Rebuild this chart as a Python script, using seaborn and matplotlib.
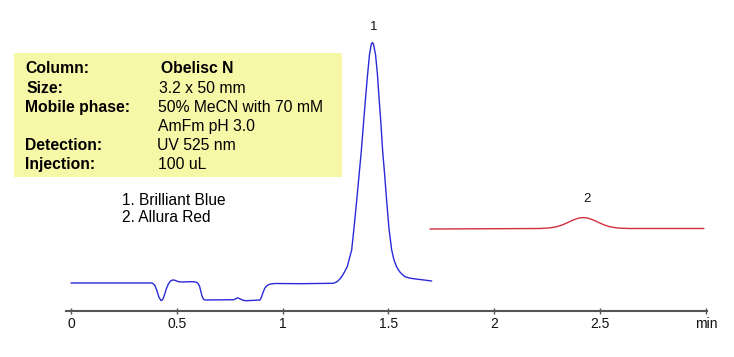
import numpy as np
import pandas as pd
import matplotlib
matplotlib.use("Agg")
import matplotlib.pyplot as plt
from matplotlib.patches import Rectangle
import seaborn as sns

# ---- data ----
blue_time = [0.000, 0.383, 0.395, 0.405, 0.415, 0.425, 0.432, 0.440, 0.450, 0.460,
             0.470, 0.480, 0.490, 0.505, 0.520, 0.550, 0.578, 0.592, 0.600, 0.607,
             0.613, 0.619, 0.625, 0.633, 0.770, 0.780, 0.787, 0.795, 0.806, 0.818,
             0.830, 0.893, 0.900, 0.908, 0.916, 0.925, 0.935, 0.950, 0.964, 1.082,
             1.238, 1.250, 1.261, 1.270, 1.279, 1.292, 1.305, 1.326,
             1.337, 1.350, 1.361, 1.372, 1.382, 1.392, 1.401, 1.410, 1.417, 1.420,
             1.424, 1.428, 1.431, 1.439, 1.448, 1.455, 1.464, 1.472, 1.482, 1.491,
             1.502, 1.515, 1.526, 1.538, 1.546, 1.554, 1.566, 1.578, 1.595, 1.611,
             1.630, 1.649, 1.675, 1.704]
blue_signal = [0.0, 0.0, -2.0, -7.0, -14.0, -17.5, -17.0, -13.0, -6.0, -1.0,
               2.0, 3.0, 2.8, 1.5, 1.0, 1.2, 1.3, 0.8, -0.5, -3.0,
               -8.0, -13.0, -16.0, -17.0, -16.7, -15.5, -14.8, -15.5, -16.7, -17.5,
               -17.7, -17.0, -14.0, -9.0, -5.0, -2.8, -1.5, -0.8, -0.5, -0.7,
               -0.3, 0.5, 2.0, 4.0, 6.3, 11.0, 16.3, 33.0,
               55.0, 83.0, 108.0, 133.0, 160.0, 186.0, 208.0, 228.0, 237.0, 239.3,
               240.5, 239.3, 237.0, 228.0, 208.0, 186.0, 160.0, 133.0, 108.0, 83.0,
               55.0, 33.0, 23.0, 16.3, 13.3, 11.0, 8.3, 6.3, 5.2, 4.5,
               4.0, 3.5, 2.8, 2.0]

red_time = [1.696, 2.215, 2.240, 2.260, 2.280, 2.300, 2.320, 2.340, 2.360, 2.380,
            2.400, 2.420, 2.440, 2.460, 2.480, 2.500, 2.520, 2.540, 2.560, 2.580,
            2.600, 2.640, 2.990]
red_signal = [54.0, 54.5, 54.8, 55.1, 55.7, 56.6, 58.0, 59.8, 61.8, 63.6,
              65.0, 65.4, 65.0, 63.6, 61.8, 59.8, 58.0, 56.6, 55.7, 55.1,
              54.8, 54.5, 54.5]

tick_values = [0, 0.5, 1, 1.5, 2, 2.5, 3]
tick_labels = ["0", "0.5", "1", "1.5", "2", "2.5", "min"]

peak_labels = ["1", "2"]
peak_times = [1.428, 2.437]
peak_label_heights = [253, 81]

info_labels = ["Column:", "Size:", "Mobile phase:", "", "Detection:", "Injection:"]
info_values = ["Obelisc N", "3.2 x 50 mm", "50% MeCN with 70 mM", "AmFm pH 3.0",
               "UV 525 nm", "100 uL"]
compounds = ["1. Brilliant Blue", "2. Allura Red"]

# ---- figure ----
sns.set_theme(style="white")
plt.rcParams["font.family"] = ["Liberation Sans", "DejaVu Sans"]

W, H = 734, 357
fig = plt.figure(figsize=(W / 100, H / 100), dpi=100)

def fx(x):
    return x / W

def fy(y):
    return 1 - y / H

ax_left, ax_right, ax_top, ax_bottom = 66, 707, 20, 311
ax = fig.add_axes([fx(ax_left), fy(ax_bottom), fx(ax_right - ax_left), (ax_bottom - ax_top) / H])
ax.patch.set_alpha(0)

blue_df = pd.DataFrame({"time": blue_time, "signal": blue_signal})
red_df = pd.DataFrame({"time": red_time, "signal": red_signal})

sns.lineplot(data=blue_df, x="time", y="signal", ax=ax, color="#2a2ad8",
             linewidth=1.0, estimator=None, sort=False)
sns.lineplot(data=red_df, x="time", y="signal", ax=ax, color="#d0303e",
             linewidth=1.0, estimator=None, sort=False)

ax.set_xlim(-5 / 211.7, 3.0 + 1 / 211.7)
ax.set_ylim(-28, 263)
ax.set_xlabel("")
ax.set_ylabel("")
ax.set_yticks([])
ax.set_xticks(tick_values)
ax.set_xticklabels(tick_labels, fontsize=10, color="#111111")
ax.tick_params(axis="x", direction="inout", length=4, width=1, color="#555555", pad=2,
               bottom=True)
for s in ["top", "left", "right"]:
    ax.spines[s].set_visible(False)
ax.spines["bottom"].set_color("#555555")
ax.spines["bottom"].set_linewidth(1.5)

for lab, t, h in zip(peak_labels, peak_times, peak_label_heights):
    ax.text(t, h, lab, ha="center", va="baseline", fontsize=9.5, color="#111111")

# info box
fig.patches.append(Rectangle((fx(14), fy(177)), fx(342 - 14), (177 - 53) / H,
                             transform=fig.transFigure, facecolor="#f7f7a8",
                             edgecolor="none", zorder=0))
label_x = [25, 26, 25, 25, 25, 25]
value_x = [161, 159, 158, 158, 157, 158]
base_y = [73, 93, 112, 131, 150, 169]
for i, (lab, val) in enumerate(zip(info_labels, info_values)):
    if lab:
        fig.text(fx(label_x[i]), fy(base_y[i]), lab, fontsize=11.3, fontweight="bold",
                 va="baseline", ha="left", color="black")
    fig.text(fx(value_x[i]), fy(base_y[i]), val, fontsize=11.3,
             fontweight="bold" if i == 0 else "normal",
             va="baseline", ha="left", color="black")

for i, c in enumerate(compounds):
    fig.text(fx(122), fy(205.5 + 16.5 * i), c, fontsize=11.2, va="baseline", ha="left",
             color="black")

fig.savefig("out.png", dpi=100)
